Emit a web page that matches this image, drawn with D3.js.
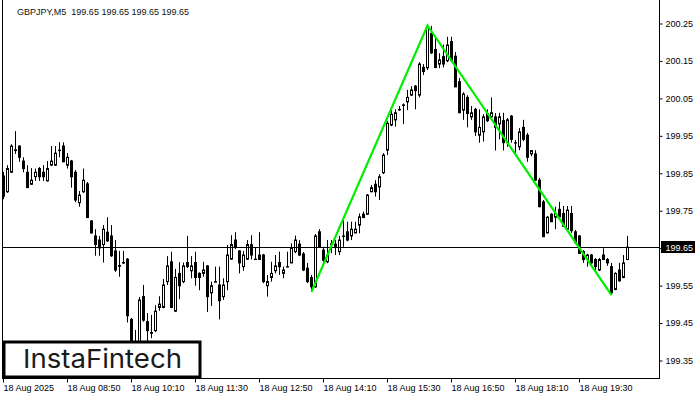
<!DOCTYPE html>
<html><head><meta charset="utf-8">
<script src="https://cdn.jsdelivr.net/npm/d3@7"></script>
<style>body{margin:0;background:#fff}svg{display:block}</style>
</head><body>
<svg id="c" width="700" height="400"></svg>
<script>
const symbol = "GBPJPY,M5";
const quote = [199.65, 199.65, 199.65, 199.65];
const open = [199.844,199.802,199.854,199.912,199.924,199.884,199.854,199.822,199.842,199.864,199.854,199.831,199.873,199.873,199.913,199.924,199.873,199.884,199.854,199.773,199.802,199.823,199.724,199.684,199.673,199.661,199.694,199.684,199.644,199.605,199.612,199.622,199.461,199.335,199.379,199.522,199.455,199.424,199.431,199.493,199.493,199.562,199.615,199.483,199.584,199.562,199.613,199.591,199.613,199.584,199.584,199.604,199.532,199.561,199.553,199.522,199.562,199.622,199.673,199.644,199.602,199.622,199.661,199.622,199.633,199.633,199.551,199.573,199.591,199.613,199.584,199.602,199.612,199.642,199.662,199.636,199.598,199.573,199.548,199.695,199.646,199.615,199.662,199.662,199.642,199.683,199.695,199.684,199.692,199.713,199.742,199.742,199.802,199.822,199.815,199.853,199.913,199.980,199.994,200.021,200.033,200.042,200.060,200.084,200.060,200.134,200.133,200.225,200.182,200.143,200.163,200.152,200.203,200.164,200.096,200.020,200.054,200.002,200.022,199.953,199.962,200.011,200.002,200.002,199.983,199.992,199.933,200.004,199.933,199.922,199.974,199.953,199.903,199.903,199.833,199.775,199.692,199.742,199.734,199.755,199.744,199.702,199.744,199.695,199.684,199.642,199.621,199.633,199.621,199.593,199.633,199.621,199.602,199.541,199.593,199.573,199.621];
const high = [199.855,199.873,199.929,199.964,199.926,199.894,199.873,199.865,199.864,199.868,199.873,199.884,199.924,199.924,199.934,199.934,199.905,199.887,199.860,199.804,199.864,199.828,199.726,199.702,199.684,199.713,199.734,199.713,199.673,199.644,199.644,199.625,199.465,199.433,199.521,199.553,199.478,199.473,199.499,199.523,199.569,199.630,199.642,199.596,199.614,199.613,199.684,199.630,199.642,199.587,199.615,199.606,199.562,199.602,199.602,199.571,199.660,199.686,199.694,199.646,199.644,199.673,199.686,199.653,199.694,199.636,199.580,199.615,199.633,199.642,199.602,199.642,199.664,199.685,199.673,199.641,199.612,199.580,199.689,199.702,199.655,199.673,199.673,199.673,199.684,199.726,199.722,199.722,199.722,199.744,199.749,199.796,199.820,199.833,199.849,199.905,199.991,200.020,200.022,200.031,200.038,200.074,200.084,200.087,200.148,200.143,200.246,200.245,200.213,200.172,200.195,200.216,200.216,200.175,200.106,200.068,200.060,200.031,200.026,200.022,200.009,200.022,200.054,200.012,200.013,200.013,199.999,200.007,199.940,199.972,199.994,199.959,199.913,199.913,199.839,199.780,199.737,199.745,199.762,199.775,199.764,199.764,199.764,199.700,199.686,199.646,199.636,199.636,199.625,199.625,199.651,199.625,199.612,199.587,199.612,199.633,199.684];
const low = [199.782,199.799,199.852,199.903,199.882,199.854,199.812,199.820,199.831,199.831,199.831,199.830,199.871,199.871,199.894,199.881,199.864,199.813,199.774,199.762,199.799,199.732,199.691,199.631,199.631,199.613,199.668,199.628,199.588,199.575,199.609,199.453,199.326,199.320,199.366,199.455,199.393,199.411,199.427,199.484,199.491,199.553,199.491,199.481,199.515,199.558,199.598,199.571,199.551,199.539,199.575,199.481,199.497,199.560,199.461,199.513,199.539,199.620,199.649,199.584,199.591,199.620,199.621,199.620,199.620,199.558,199.522,199.562,199.584,199.580,199.571,199.600,199.611,199.638,199.630,199.590,199.558,199.535,199.545,199.652,199.614,199.611,199.638,199.633,199.633,199.655,199.670,199.673,199.691,199.691,199.732,199.740,199.801,199.789,199.780,199.849,199.900,199.977,199.976,200.018,199.983,200.020,200.058,200.022,200.054,200.114,200.127,200.170,200.132,200.132,200.134,200.148,200.148,200.082,200.012,199.994,199.974,199.994,199.951,199.933,199.936,199.988,199.999,199.912,199.942,199.912,199.922,199.933,199.905,199.913,199.937,199.882,199.897,199.831,199.761,199.681,199.691,199.721,199.702,199.734,199.708,199.700,199.692,199.662,199.636,199.612,199.602,199.602,199.591,199.590,199.620,199.604,199.526,199.539,199.562,199.571,199.620];
const close = [199.790,199.864,199.924,199.914,199.894,199.864,199.813,199.833,199.854,199.842,199.842,199.864,199.884,199.905,199.912,199.882,199.894,199.842,199.780,199.793,199.833,199.733,199.692,199.661,199.652,199.702,199.671,199.631,199.593,199.603,199.613,199.471,199.339,199.379,199.513,199.459,199.431,199.426,199.483,199.502,199.553,199.604,199.493,199.573,199.551,199.604,199.602,199.604,199.573,199.573,199.593,199.522,199.551,199.562,199.511,199.553,199.633,199.661,199.653,199.612,199.633,199.661,199.633,199.621,199.621,199.562,199.562,199.584,199.604,199.602,199.593,199.601,199.653,199.673,199.633,199.593,199.562,199.548,199.684,199.655,199.619,199.633,199.663,199.655,199.673,199.684,199.673,199.702,199.702,199.735,199.733,199.793,199.813,199.802,199.842,199.900,199.985,200.009,200.013,200.022,200.034,200.054,200.074,200.072,200.143,200.123,200.243,200.173,200.134,200.154,200.143,200.194,200.152,200.082,200.013,200.063,200.011,200.013,199.962,199.974,200.002,199.992,200.013,199.974,200.002,199.933,199.994,199.942,199.932,199.962,199.942,199.894,199.912,199.833,199.762,199.682,199.734,199.722,199.744,199.735,199.710,199.753,199.698,199.666,199.637,199.621,199.633,199.612,199.602,199.621,199.621,199.612,199.532,199.584,199.564,199.612,199.654];
const xTickIndex = [0, 16, 32, 48, 64, 80, 96, 112, 128, 144];
const xTickLabels = ["18 Aug 2025","18 Aug 08:50","18 Aug 10:10","18 Aug 11:30","18 Aug 12:50","18 Aug 14:10","18 Aug 15:30","18 Aug 16:50","18 Aug 18:10","18 Aug 19:30"];
const yTicks = [199.35,199.45,199.55,199.65,199.75,199.85,199.95,200.05,200.15,200.25];
const currentPrice = 199.654;
const patternIdx = [77, 106, 152];
const patternPrice = [199.535, 200.246, 199.526];
const logoText = "InstaFintech";

const candles = open.map((o, i) => ({ i, o, h: high[i], l: low[i], c: close[i] }));
const svg = d3.select("#c");
const font = "'Liberation Sans', Arial, sans-serif";
const x = d3.scaleLinear().domain([0, 156]).range([3.5, 627.5]);
const y = d3.scaleLinear().domain([199.35, 200.25]).range([361, 24]);

svg.append("rect").attr("width", 700).attr("height", 400).attr("fill", "#fff");

svg.append("defs").append("clipPath").attr("id", "plot")
  .append("rect").attr("x", 3).attr("y", 0).attr("width", 656).attr("height", 378);

const g = svg.append("g").attr("clip-path", "url(#plot)");

// wicks
g.selectAll(".wick").data(candles).join("line")
  .attr("x1", d => x(d.i)).attr("x2", d => x(d.i))
  .attr("y1", d => y(d.h)).attr("y2", d => y(d.l))
  .attr("stroke", "#000").attr("stroke-width", 1);

// bodies
g.selectAll(".body").data(candles).join("rect")
  .each(function (d) {
    const top = y(Math.max(d.o, d.c)), bot = y(Math.min(d.o, d.c));
    const s = d3.select(this);
    if (d.c > d.o) {
      s.attr("x", x(d.i) - 1).attr("width", 2)
       .attr("y", top).attr("height", Math.max(bot - top, 0.5))
       .attr("fill", "#fff").attr("stroke", "#000").attr("stroke-width", 1);
    } else {
      s.attr("x", x(d.i) - 1.5).attr("width", 3)
       .attr("y", top - 0.5).attr("height", Math.max(bot - top, 0) + 1)
       .attr("fill", "#000");
    }
  });

// current price line
const cyl = Math.round(y(currentPrice)) + 0.5;
g.append("line").attr("x1", 3).attr("x2", 659)
  .attr("y1", cyl).attr("y2", cyl)
  .attr("stroke", "#000").attr("stroke-width", 1);

// pattern line
g.append("path")
  .datum(patternIdx.map((d, k) => [d, patternPrice[k]]))
  .attr("d", d3.line().x(d => x(d[0])).y(d => y(d[1])))
  .attr("fill", "none").attr("stroke", "#00ee00").attr("stroke-width", 2.2)
  .attr("stroke-linejoin", "miter");

// frame
svg.append("line").attr("x1", 2.5).attr("x2", 2.5).attr("y1", 0).attr("y2", 379).attr("stroke", "#000");
svg.append("line").attr("x1", 2.5).attr("x2", 659.5).attr("y1", 378.5).attr("y2", 378.5).attr("stroke", "#000");
svg.append("line").attr("x1", 659.5).attr("x2", 659.5).attr("y1", 0).attr("y2", 379).attr("stroke", "#000");

// y axis
const ya = svg.append("g").attr("transform", "translate(659.5,0)")
  .call(d3.axisRight(y).tickValues(yTicks).tickSize(3).tickFormat(d3.format(".2f")).offset(0));
ya.select(".domain").remove();
ya.selectAll("text").attr("font-family", font).attr("font-size", 9).attr("fill", "#000").attr("x", 6);
ya.selectAll("line").attr("stroke", "#000");

// current price box
svg.append("rect").attr("x", 661).attr("y", cyl - 6.5).attr("width", 34).attr("height", 12).attr("fill", "#000");
svg.append("text").attr("x", 665.5).attr("y", cyl + 3).attr("font-family", font).attr("font-size", 9)
  .attr("fill", "#fff").text(d3.format(".2f")(currentPrice));

// x axis
const xa = svg.append("g").attr("transform", "translate(0,378.5)")
  .call(d3.axisBottom(x).tickValues(xTickIndex).tickSize(4).tickFormat((d, k) => xTickLabels[k]).offset(0));
xa.select(".domain").remove();
xa.selectAll("line").attr("stroke", "#000");
xa.selectAll("text").attr("font-family", font).attr("font-size", 9).attr("fill", "#000")
  .attr("text-anchor", "start").attr("x", 0).attr("y", 6);

// title
svg.append("text").attr("x", 17).attr("y", 15).attr("font-family", font).attr("font-size", 9)
  .attr("fill", "#111").attr("xml:space", "preserve")
  .text(symbol + "  " + quote.map(d3.format(".2f")).join(" "));

// logo
svg.append("rect").attr("x", 4).attr("y", 342).attr("width", 196).attr("height", 35)
  .attr("fill", "#fff").attr("stroke", "#000").attr("stroke-width", 3);
svg.append("text").attr("x", 23).attr("y", 368).attr("font-family", "Inter, 'Open Sans', sans-serif")
  .attr("font-size", 26).attr("font-weight", 400).attr("fill", "#1a1a1a")
  .attr("textLength", 159).attr("lengthAdjust", "spacingAndGlyphs").text(logoText);
</script>
</body></html>
